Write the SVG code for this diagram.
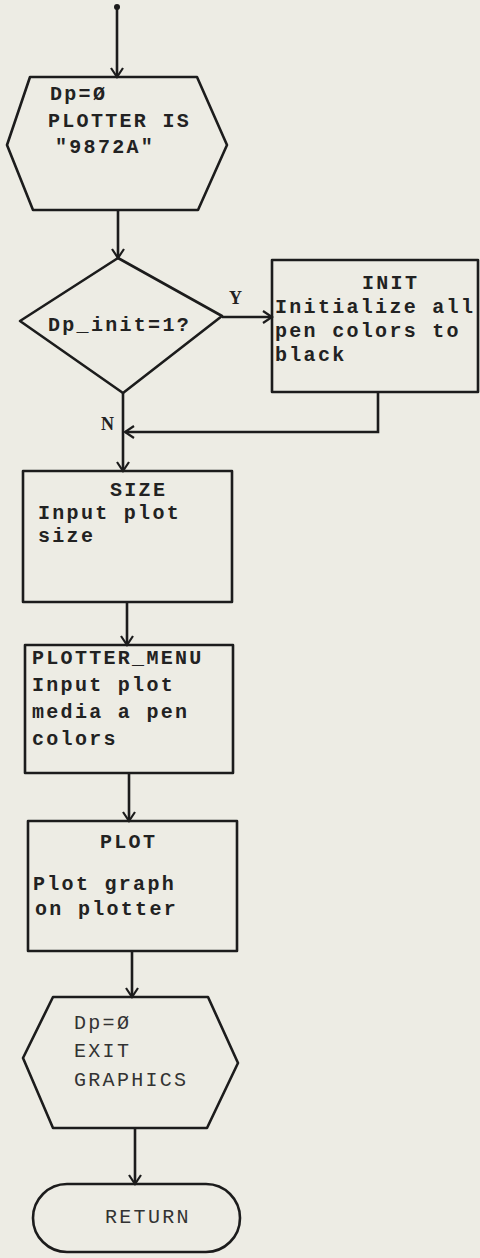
<svg xmlns="http://www.w3.org/2000/svg" width="480" height="1258" viewBox="0 0 480 1258">
<defs>
<style>
.bg{fill:#edece4}
.shape{fill:none;stroke:#1c1c1c;stroke-width:2.6;stroke-linejoin:round}
.conn{fill:none;stroke:#1c1c1c;stroke-width:2.6}
.t{font-family:"Liberation Mono","DejaVu Sans Mono",monospace;font-size:20px;letter-spacing:2.3px;fill:#222;font-weight:bold}
.tl{font-family:"Liberation Mono","DejaVu Sans Mono",monospace;font-size:20px;letter-spacing:2.3px;fill:#333}
.lbl{font-family:"Liberation Serif","DejaVu Serif",serif;font-size:18px;font-weight:bold;fill:#222}
</style>
<marker id="ah" viewBox="-11 -7 13 14" refX="0" refY="0" markerWidth="13" markerHeight="14" orient="auto" markerUnits="userSpaceOnUse">
<path d="M-9,-6 L0,0 L-9,6" fill="none" stroke="#1c1c1c" stroke-width="2.2"/>
</marker>
</defs>
<rect class="bg" x="0" y="0" width="480" height="1258"/>

<g id="connectors">
<circle cx="117" cy="7" r="3" fill="#1c1c1c"/>
<line class="conn" x1="117" y1="7" x2="117" y2="77" marker-end="url(#ah)"/>
<line class="conn" x1="118" y1="210" x2="118" y2="258" marker-end="url(#ah)"/>
<line class="conn" x1="222" y1="317" x2="272" y2="317" marker-end="url(#ah)"/>
<line class="conn" x1="123" y1="393" x2="123" y2="471" marker-end="url(#ah)"/>
<polyline class="conn" points="378,392 378,432 125,432" marker-end="url(#ah)"/>
<line class="conn" x1="127" y1="602" x2="127" y2="645" marker-end="url(#ah)"/>
<line class="conn" x1="129" y1="773" x2="129" y2="821" marker-end="url(#ah)"/>
<line class="conn" x1="132" y1="951" x2="132" y2="997" marker-end="url(#ah)"/>
<line class="conn" x1="135" y1="1128" x2="135" y2="1184" marker-end="url(#ah)"/>
<text class="lbl" x="229" y="304">Y</text>
<text class="lbl" x="101" y="430">N</text>
</g>

<g id="start">
<polygon class="shape" points="30,77 197,77 227,145 198,210 33,210 7,145"/>
<text class="t" x="50" y="100">Dp=Ø</text>
<text class="t" x="48" y="127">PLOTTER IS</text>
<text class="t" x="55" y="153">"9872A"</text>
</g>

<g id="decision">
<polygon class="shape" points="118,258 222,316 123,393 20,321"/>
<text class="t" x="48" y="331">Dp_init=1?</text>
</g>

<g id="init">
<rect class="shape" x="272" y="260" width="206" height="132"/>
<text class="t" x="362" y="289">INIT</text>
<text class="t" x="275" y="313">Initialize all</text>
<text class="t" x="275" y="337">pen colors to</text>
<text class="t" x="275" y="361">black</text>
</g>

<g id="size">
<rect class="shape" x="23" y="471" width="209" height="131"/>
<text class="t" x="110" y="496">SIZE</text>
<text class="t" x="38" y="519">Input plot</text>
<text class="t" x="38" y="542">size</text>
</g>

<g id="plotter_menu">
<rect class="shape" x="25" y="645" width="208" height="128"/>
<text class="t" x="32" y="664">PLOTTER_MENU</text>
<text class="t" x="32" y="691">Input plot</text>
<text class="t" x="32" y="718">media a pen</text>
<text class="t" x="32" y="745">colors</text>
</g>

<g id="plot">
<rect class="shape" x="28" y="821" width="209" height="130"/>
<text class="t" x="100" y="848">PLOT</text>
<text class="t" x="33" y="890">Plot graph</text>
<text class="t" x="35" y="915">on plotter</text>
</g>

<g id="exit">
<polygon class="shape" points="53,997 208,997 238,1063 207,1128 53,1128 23,1058"/>
<text class="tl" x="74" y="1029">Dp=Ø</text>
<text class="tl" x="74" y="1057">EXIT</text>
<text class="tl" x="74" y="1086">GRAPHICS</text>
</g>

<g id="return">
<rect class="shape" x="33" y="1184" width="207" height="68" rx="34" ry="34"/>
<text class="tl" x="105" y="1223">RETURN</text>
</g>
</svg>
